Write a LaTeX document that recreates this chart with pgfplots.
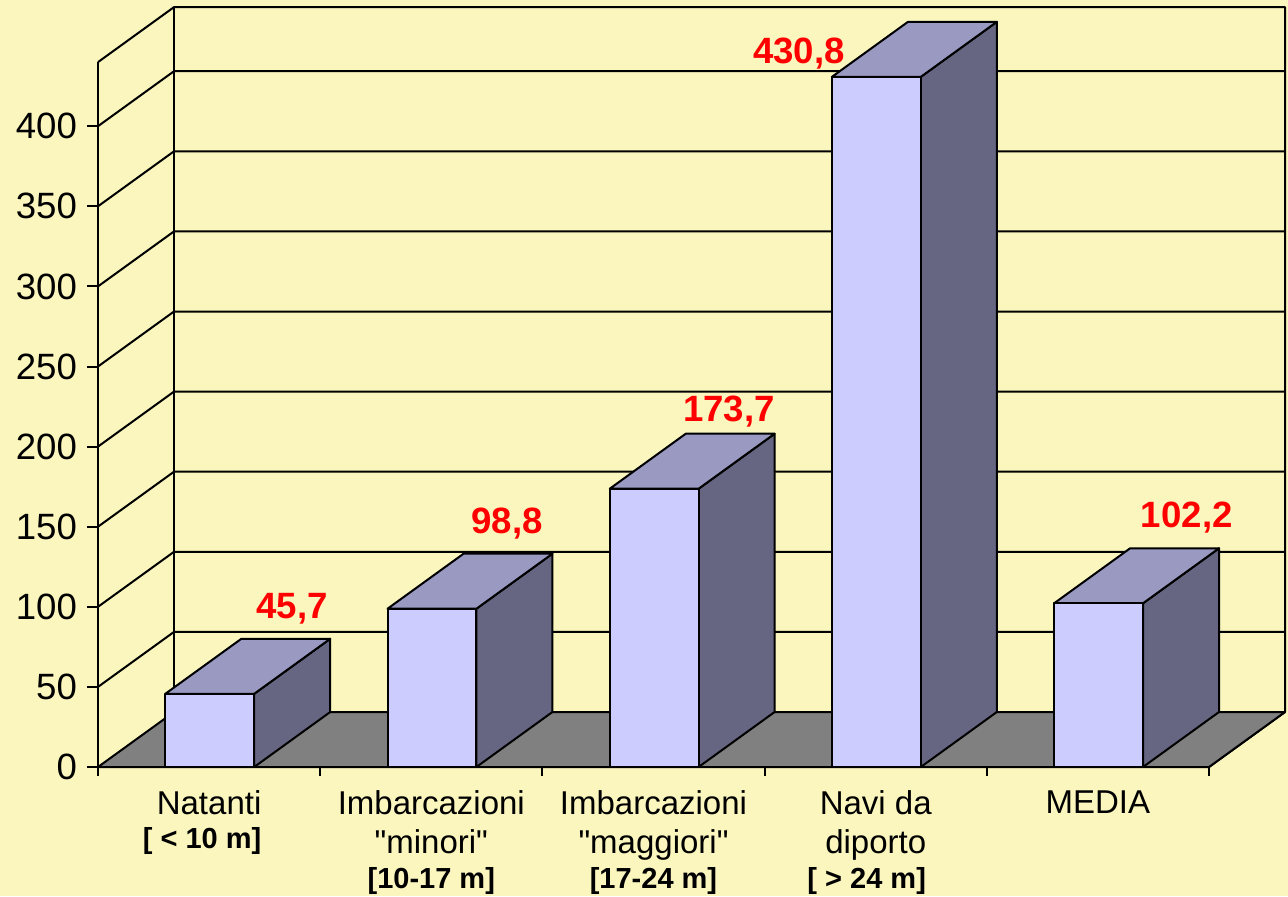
\documentclass[border=0pt]{standalone}
\usepackage{fontspec}
\setmainfont{Liberation Sans}[Ligatures=TeXOff]
\usepackage{pgfplots}
\pgfplotsset{compat=1.18}
\definecolor{bg}{HTML}{FAF6BE}
\definecolor{barfront}{HTML}{CCCCFF}
\definecolor{bartop}{HTML}{9999C2}
\definecolor{barside}{HTML}{666682}
\definecolor{floorgray}{HTML}{808080}

% one 3D column: left edge, right edge, value
\newcommand{\column}[3]{%
  \addplot3[fill=barside,draw=black] coordinates {(#2,0,0)(#2,1,0)(#2,1,#3)(#2,0,#3)} -- cycle;
  \addplot3[fill=bartop,draw=black] coordinates {(#1,0,#3)(#2,0,#3)(#2,1,#3)(#1,1,#3)} -- cycle;
  \addplot3[fill=barfront,draw=black] coordinates {(#1,0,0)(#2,0,0)(#2,0,#3)(#1,0,#3)} -- cycle;
}
\newcommand{\boldline}[1]{{\fontsize{14.5}{19.5}\selectfont\bfseries #1}}

\begin{document}
\begin{tikzpicture}[line width=1pt,line join=round]
\useasboundingbox (0,0) rectangle (644pt,448pt);
\fill[bg] (0,0) rectangle (644pt,448pt);
\begin{axis}[
  at={(49pt,64.5pt)}, anchor=origin,
  x={(111.1pt,0pt)}, y={(38pt,27.5pt)}, z={(0pt,0.801pt)},
  xmin=0, xmax=5, ymin=0, ymax=1, zmin=0, zmax=440,
  axis lines*=left,
  axis line style={line width=1pt},
  every axis plot/.append style={line width=1pt},
  clip=false,
  ytick=\empty,
  ztick={0,50,...,400},
  xtick={0,1,2,3,4,5},
  x tick label as interval,
  xticklabels={
    {Natanti\\[-2.5pt]\boldline{[ < 10 m]}\hspace*{7pt}},
    {Imbarcazioni\\"minori"\\[-2pt]\boldline{[10-17 m]}},
    {Imbarcazioni\\"maggiori"\\[-2pt]\boldline{[17-24 m]}},
    {Navi da\\diporto\\[-2pt]\boldline{[ > 24 m]}\hspace*{9pt}},
    {MEDIA}},
  x tick label style={align=center,anchor=north,xshift=0pt,yshift=-8.5pt,
    font=\fontsize{16.5}{19.5}\selectfont},
  z tick label style={anchor=east,xshift=-7pt,
    font=\fontsize{18.3}{20}\selectfont},
  /pgf/number format/assume math mode=true,
  major tick length=0pt,
  tick style={draw=none},
]
  % floor and walls
  \addplot3[fill=floorgray,draw=black] coordinates {(0,0,0)(5,0,0)(5,1,0)(0,1,0)} -- cycle;
  \addplot3[black] coordinates {(0,0,440)(0,1,440)(5,1,440)(5,1,0)};
  \addplot3[black] coordinates {(0,1,0)(0,1,440)};
  \pgfplotsinvokeforeach{50,100,150,200,250,300,350,400}{
    \addplot3[black] coordinates {(0,0,#1)(0,1,#1)(5,1,#1)};
  }
  % tick marks
  \pgfplotsinvokeforeach{0,50,100,150,200,250,300,350,400}{
    \draw[black,line width=1pt] (axis cs:0,0,#1) -- ++(-5.5pt,0pt);
  }
  \pgfplotsinvokeforeach{0,1,2,3,4,5}{
    \draw[black,line width=1pt] (axis cs:#1,0,0) -- ++(0pt,-4.5pt);
  }
  % columns
  \column{0.303}{0.703}{45.7}
  \column{1.303}{1.703}{98.8}
  \column{2.303}{2.703}{173.7}
  \column{3.303}{3.703}{430.8}
  \column{4.303}{4.703}{102.2}
  % value labels
  \begin{scope}[every node/.style={text=red,font=\fontsize{18.3}{20}\selectfont\bfseries}]
    \node at (axis cs:0.873,0,98.5) {45,7};
    \node at (axis cs:1.841,0,152) {98,8};
    \node at (axis cs:2.840,0,222) {173,7};
    \node at (axis cs:3.155,0,445.5) {430,8};
    \node at (axis cs:4.900,0,156) {102,2};
  \end{scope}
\end{axis}
\end{tikzpicture}
\end{document}
